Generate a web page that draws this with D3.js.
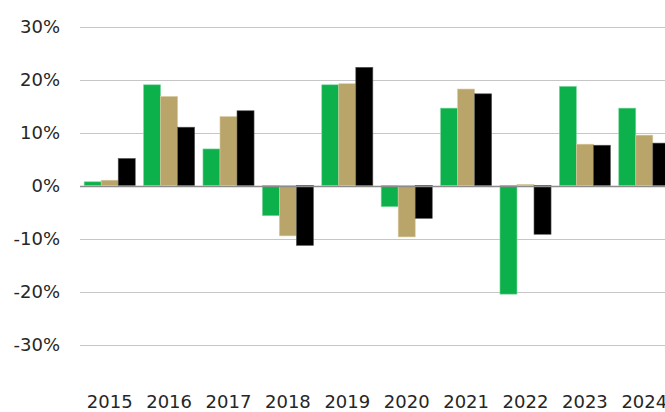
<!DOCTYPE html>
<html><head><meta charset="utf-8">
<script src="https://cdn.jsdelivr.net/npm/d3@7"></script>
<style>body{margin:0;background:#fff;}svg{display:block;}text{font-family:"DejaVu Sans",sans-serif;}</style>
</head><body><svg id="c" width="665" height="412"></svg>
<script>
const years = ["2015","2016","2017","2018","2019","2020","2021","2022","2023","2024"];
const seriesNames = ["A","B","C"];
const seriesA = [0.7, 19.0, 6.9, -5.7, 19.0, -4.0, 14.6, -20.5, 18.7, 14.6];
const seriesB = [1.0, 16.8, 13.0, -9.5, 19.2, -9.7, 18.2, 0.2, 7.8, 9.5];
const seriesC = [5.1, 11.0, 14.1, -11.3, 22.3, -6.2, 17.3, -9.2, 7.6, 8.0];
const yTicks = [-30, -20, -10, 0, 10, 20, 30];
const colors = ["#0db14b", "#b9a46a", "#000000"];
const strokes = ["#7fd89f", "#d8cba0", "#555555"];

const svg = d3.select("#c");
const y = d3.scaleLinear().domain([-40, 30]).range([397.5, 26.5]);
const x0 = d3.scaleBand().domain(years).range([80, 674]).paddingInner(0.14).paddingOuter(0.07);
const x1 = d3.scaleBand().domain(seriesNames).range([0, x0.bandwidth()]);

// gridlines
svg.append("g").selectAll("line").data(yTicks.filter(d => d !== 0)).join("line")
  .attr("x1", 80).attr("x2", 665)
  .attr("y1", d => Math.round(y(d)) + 0.5).attr("y2", d => Math.round(y(d)) + 0.5)
  .attr("stroke", "#c6c6c6").attr("stroke-width", 1);

// y labels
svg.append("g").selectAll("text").data(yTicks).join("text")
  .attr("x", 60).attr("y", d => y(d) + 6.8)
  .attr("text-anchor", "end").attr("font-size", 18).attr("fill", "#262626")
  .text(d => d + "%");

// bars
const data = years.map((yr, i) => ({yr, vals: [seriesA[i], seriesB[i], seriesC[i]]}));
const g = svg.append("g").selectAll("g").data(data).join("g")
  .attr("transform", d => `translate(${x0(d.yr)},0)`);
g.selectAll("rect").data(d => d.vals.map((v, k) => ({v, k}))).join("rect")
  .attr("x", d => x1(seriesNames[d.k]))
  .attr("width", x1.bandwidth())
  .attr("y", d => y(Math.max(0, d.v)))
  .attr("height", d => Math.abs(y(d.v) - y(0)))
  .attr("fill", d => colors[d.k])
  .attr("stroke", d => strokes[d.k]).attr("stroke-width", 0.6);

// zero line
svg.append("line").attr("x1", 80).attr("x2", 665)
  .attr("y1", Math.round(y(0)) + 0.5).attr("y2", Math.round(y(0)) + 0.5)
  .attr("stroke", "#8c8c8c").attr("stroke-width", 1.5);

// x labels
svg.append("g").selectAll("text").data(years).join("text")
  .attr("x", d => x0(d) + x0.bandwidth() / 2).attr("y", 408)
  .attr("text-anchor", "middle").attr("font-size", 18).attr("fill", "#262626")
  .text(d => d);
</script></body></html>
